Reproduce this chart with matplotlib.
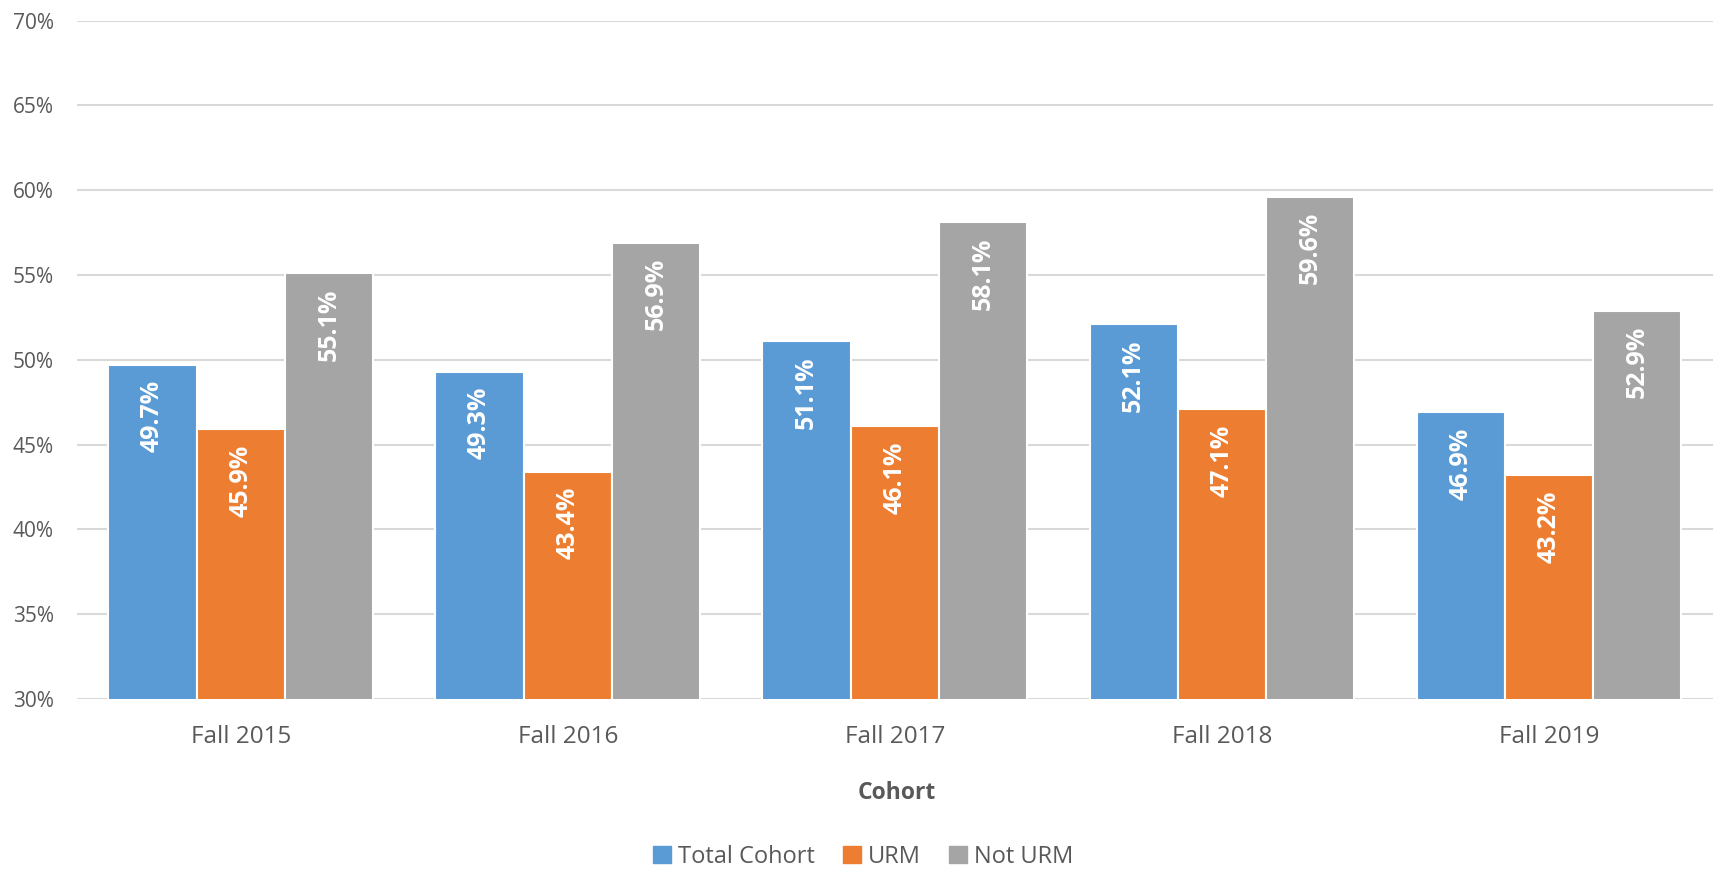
import matplotlib
matplotlib.use('Agg')
import matplotlib.pyplot as plt
import matplotlib.patches as mpatches
import numpy as np

# ── Data ───────────────────────────────────────────────────────────────────
cohorts      = ["Fall 2015", "Fall 2016", "Fall 2017", "Fall 2018", "Fall 2019"]
series_names = ["Total Cohort", "URM", "Not URM"]
total_cohort = [49.7, 49.3, 51.1, 52.1, 46.9]
urm          = [45.9, 43.4, 46.1, 47.1, 43.2]
not_urm      = [55.1, 56.9, 58.1, 59.6, 52.9]
y_ticks      = [30, 35, 40, 45, 50, 55, 60, 65, 70]

# ── Style ──────────────────────────────────────────────────────────────────
C_BLUE   = "#5B9BD5"
C_ORANGE = "#ED7D31"
C_GRAY   = "#A5A5A5"
C_TEXT   = "#595959"
GRID_C   = "#D9D9D9"

plt.rcParams.update({
    "font.family": ["Open Sans", "DejaVu Sans"],
    "text.color": C_TEXT,
    "xtick.color": C_TEXT,
    "ytick.color": C_TEXT,
})

fig = plt.figure(figsize=(17.16, 8.72), dpi=100)
ax = fig.add_axes([0.045, 0.1984, 0.953, 0.778])

x = np.arange(len(cohorts))
w = 0.27
colors = [C_BLUE, C_ORANGE, C_GRAY]
for i, (vals, c) in enumerate(zip([total_cohort, urm, not_urm], colors)):
    pos = x + (i - 1) * w
    ax.bar(pos, vals, w, bottom=0, color=c, edgecolor="white", linewidth=1.5, zorder=3)
    for px, v in zip(pos, vals):
        ax.annotate(f"{v:.1f}%", (px, v), xytext=(0, -11), textcoords="offset points",
                    rotation=90, ha="center", va="top", color="white",
                    fontsize=18, fontweight="bold", zorder=4)

ax.set_ylim(30, 70)
ax.set_xlim(-0.5, len(cohorts) - 0.5)
ax.set_yticks(y_ticks)
ax.set_yticklabels([f"{t}%" for t in y_ticks], fontsize=15)
ax.set_xticks(x)
ax.set_xticklabels(cohorts, fontsize=17.5)
ax.tick_params(axis="both", length=0)
ax.tick_params(axis="x", pad=19)
ax.tick_params(axis="y", pad=17)
ax.grid(True, axis="y", color=GRID_C, linewidth=1.5, zorder=0)
for s in ax.spines.values():
    s.set_visible(False)

fig.text(0.5225, 1 - 793 / 872, "Cohort", ha="center", va="center",
         fontsize=16.5, fontweight="bold", color=C_TEXT)

handles = [mpatches.Patch(color=c, label=n) for c, n in zip(colors, series_names)]
fig.legend(handles=handles, loc="center", bbox_to_anchor=(0.503, 1 - 857 / 872),
           ncol=3, frameon=False, fontsize=17, handlelength=0.75, handleheight=0.75,
           handletextpad=0.3, columnspacing=1.2)

fig.savefig("out.png", dpi=100, facecolor="white")
